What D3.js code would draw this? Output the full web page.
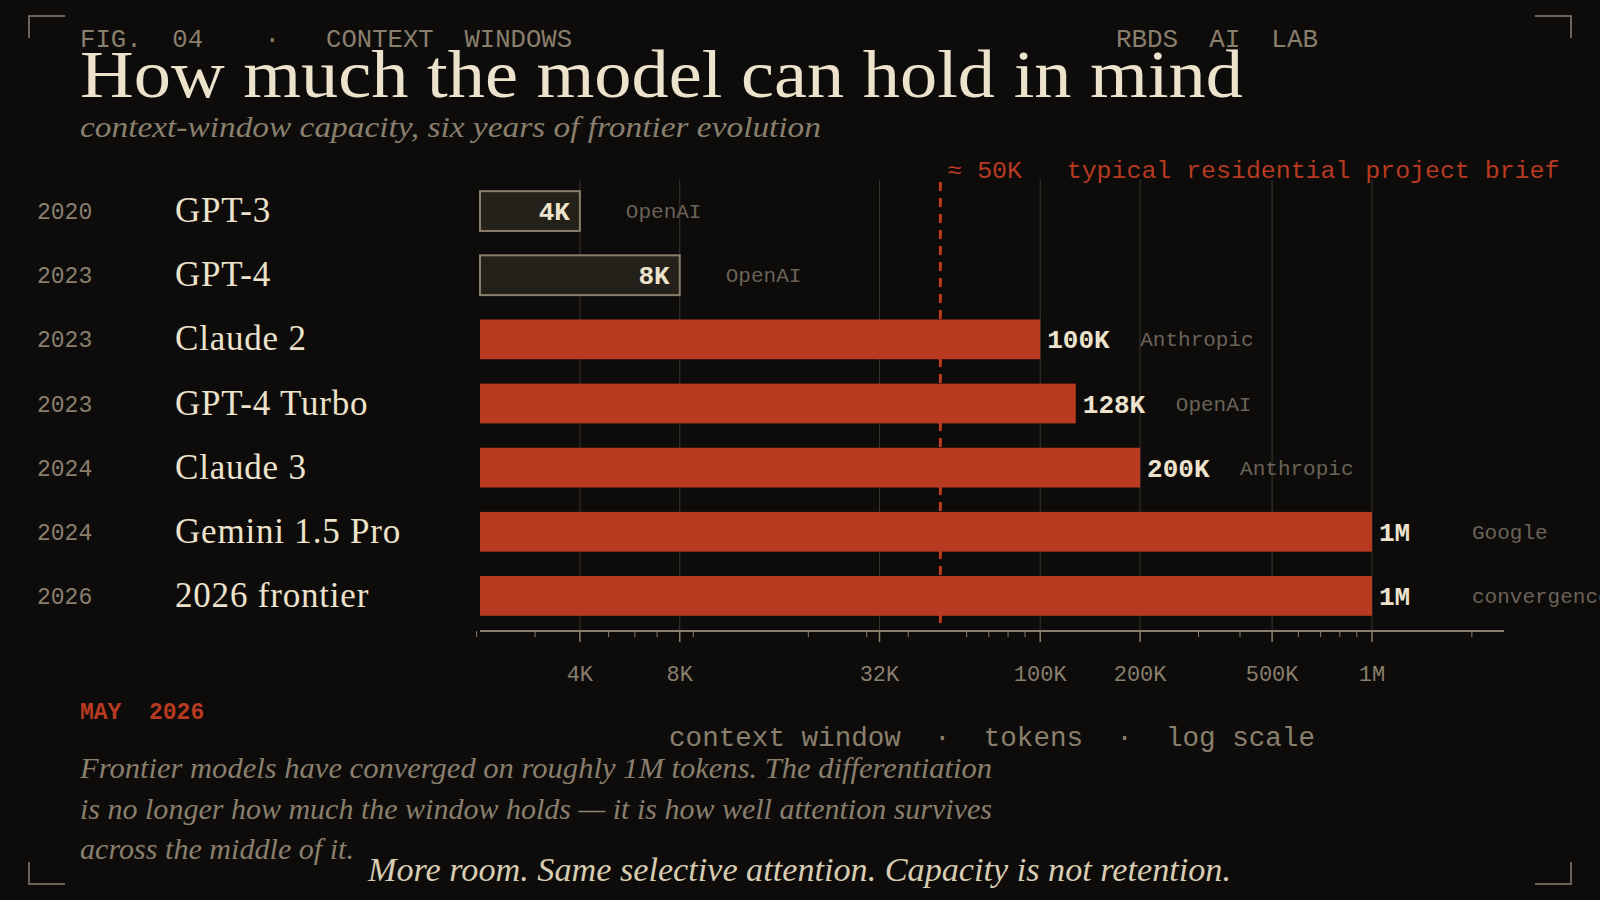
<!DOCTYPE html>
<html><head><meta charset="utf-8">
<script src="https://cdn.jsdelivr.net/npm/d3@7"></script>
<style>body{margin:0;background:#0d0c0b}svg{display:block}</style>
</head><body>
<svg id="chart" width="1600" height="900"></svg>
<script>
var years = ["2020","2023","2023","2023","2024","2024","2026"];
var models = ["GPT-3","GPT-4","Claude 2","GPT-4 Turbo","Claude 3","Gemini 1.5 Pro","2026 frontier"];
var tokens = [4096,8192,100000,128000,200000,1000000,1000000];
var labels = ["4K","8K","100K","128K","200K","1M","1M"];
var providers = ["OpenAI","OpenAI","Anthropic","OpenAI","Anthropic","Google","convergence"];
var majorTicks = [4096,8192,32768,100000,200000,500000,1000000];
var majorLabels = ["4K","8K","32K","100K","200K","500K","1M"];
var minorTicks = [2000,3000,5000,6000,7000,9000,20000,30000,40000,60000,70000,80000,90000,300000,400000,600000,700000,800000,900000,2000000];
var briefTokens = 50000;

var red="#b83a20", cream="#ede3cc", tan="#8a7f6d", grey="#6b6357";
var mono="'Liberation Mono', 'DejaVu Sans Mono', monospace", serif="'Liberation Serif', 'DejaVu Serif', serif";
var svg=d3.select("#chart");
svg.append("rect").attr("width",1600).attr("height",900).attr("fill","#0d0c0b");

// corners
[[29,16,1,1],[1571,16,-1,1],[29,884,1,-1],[1571,884,-1,-1]].forEach(function(c){
  svg.append("path").attr("d","M"+c[0]+","+(c[1]+22*c[3])+"V"+c[1]+"H"+(c[0]+36*c[2]))
    .attr("fill","none").attr("stroke","#6b6357").attr("stroke-width",2);
});

function fit(t,w){ return t.attr("textLength",w).attr("lengthAdjust","spacingAndGlyphs"); }

fit(svg.append("text").attr("x",80).attr("y",47).attr("fill",tan).attr("font-family",mono).attr("font-size",25)
  .attr("xml:space","preserve").text("FIG.  04    ·   CONTEXT  WINDOWS"),492);
fit(svg.append("text").attr("x",1520).attr("y",47).attr("fill",tan).attr("font-family",mono).attr("font-size",25)
  .attr("text-anchor","end").attr("xml:space","preserve").text("RBDS  AI  LAB"),202).attr("x",1318);
fit(svg.append("text").attr("x",80).attr("y",97).attr("fill",cream).attr("font-family",serif).attr("font-size",68)
  .text("How much the model can hold in mind"),1163);
fit(svg.append("text").attr("x",80).attr("y",137).attr("fill",tan).attr("font-family",serif).attr("font-style","italic")
  .attr("font-size",30).text("context-window capacity, six years of frontier evolution"),741);

var x=d3.scaleLog().domain([2048,2500000]).range([480,1504]);
var y=d3.scaleBand().domain(d3.range(models.length)).range([179,628]).paddingInner(0.38).paddingOuter(0.19);
var axisY=631;

// grid
svg.append("g").selectAll("line").data(majorTicks).enter().append("line")
  .attr("x1",d=>x(d)).attr("x2",d=>x(d)).attr("y1",180).attr("y2",axisY)
  .attr("stroke","#3a3630").attr("stroke-width",1);

// axis
var ax=svg.append("g");
ax.append("line").attr("x1",480).attr("x2",1504).attr("y1",axisY).attr("y2",axisY).attr("stroke",tan).attr("stroke-width",2);
ax.selectAll(".mi").data(minorTicks).enter().append("line")
  .attr("x1",d=>x(d)).attr("x2",d=>x(d)).attr("y1",axisY).attr("y2",axisY+6).attr("stroke",tan);
ax.selectAll(".ma").data(majorTicks).enter().append("line")
  .attr("x1",d=>x(d)).attr("x2",d=>x(d)).attr("y1",axisY).attr("y2",axisY+11).attr("stroke",tan).attr("stroke-width",1.5);
ax.selectAll("text").data(majorTicks).enter().append("text")
  .attr("x",d=>x(d)).attr("y",681).attr("text-anchor","middle").attr("fill",tan)
  .attr("font-family",mono).attr("font-size",22).text((d,i)=>majorLabels[i]);

var rows=svg.append("g").selectAll("g").data(tokens).enter().append("g");
rows.append("rect").attr("x",x(2048)).attr("y",(d,i)=>y(i)).attr("height",y.bandwidth())
  .attr("width",d=>x(d)-x(2048))
  .attr("fill",(d,i)=>i<2?"#24201a":red).attr("stroke",(d,i)=>i<2?tan:"none").attr("stroke-width",2);
rows.append("text").attr("x",(d,i)=>i<2?x(d)-10:x(d)+7).attr("y",(d,i)=>y(i)+y.bandwidth()/2+9)
  .attr("text-anchor",(d,i)=>i<2?"end":"start").attr("fill",cream).attr("font-family",mono)
  .attr("font-weight","bold").attr("font-size",26).text((d,i)=>labels[i]);
rows.append("text").attr("x",(d,i)=>x(d)+(i<2?46:100)).attr("y",(d,i)=>y(i)+y.bandwidth()/2+7)
  .attr("fill",grey).attr("font-family",mono).attr("font-size",21).text((d,i)=>providers[i]);
rows.append("text").attr("x",37).attr("y",(d,i)=>y(i)+y.bandwidth()/2+8)
  .attr("fill",tan).attr("font-family",mono).attr("font-size",23).text((d,i)=>years[i]);
rows.append("text").attr("x",175).attr("y",(d,i)=>y(i)+y.bandwidth()/2+11)
  .attr("fill",cream).attr("font-family",serif).attr("font-size",35)
  .attr("letter-spacing",0.8).text((d,i)=>models[i]);

// reference line
svg.append("line").attr("x1",x(briefTokens)).attr("x2",x(briefTokens)).attr("y1",182).attr("y2",axisY-2)
  .attr("stroke",red).attr("stroke-width",3).attr("stroke-dasharray","9,7");
fit(svg.append("text").attr("x",x(briefTokens)+7).attr("y",178).attr("fill",red).attr("font-family",mono)
  .attr("font-size",24).attr("xml:space","preserve").text("≈ 50K   typical residential project brief"),612);

svg.append("text").attr("x",80).attr("y",719).attr("fill",red).attr("font-family",mono).attr("font-weight","bold")
  .attr("font-size",23).attr("xml:space","preserve").text("MAY  2026");
fit(svg.append("text").attr("x",669).attr("y",746).attr("fill",tan).attr("font-family",mono)
  .attr("font-size",27).attr("xml:space","preserve").text("context window  ·  tokens  ·  log scale"),646);
["Frontier models have converged on roughly 1M tokens. The differentiation",
 "is no longer how much the window holds — it is how well attention survives",
 "across the middle of it."].forEach(function(t,i){
  var tx=svg.append("text").attr("x",80).attr("y",778+i*40.5).attr("fill",tan).attr("font-family",serif)
    .attr("font-style","italic").attr("font-size",29).text(t);
  if(i<2) fit(tx,912); else fit(tx,274);
});
fit(svg.append("text").attr("x",368).attr("y",881).attr("fill","#d8ccb2").attr("font-family",serif)
  .attr("font-style","italic").attr("font-size",33).text("More room. Same selective attention. Capacity is not retention."),863);
</script>
</body></html>
